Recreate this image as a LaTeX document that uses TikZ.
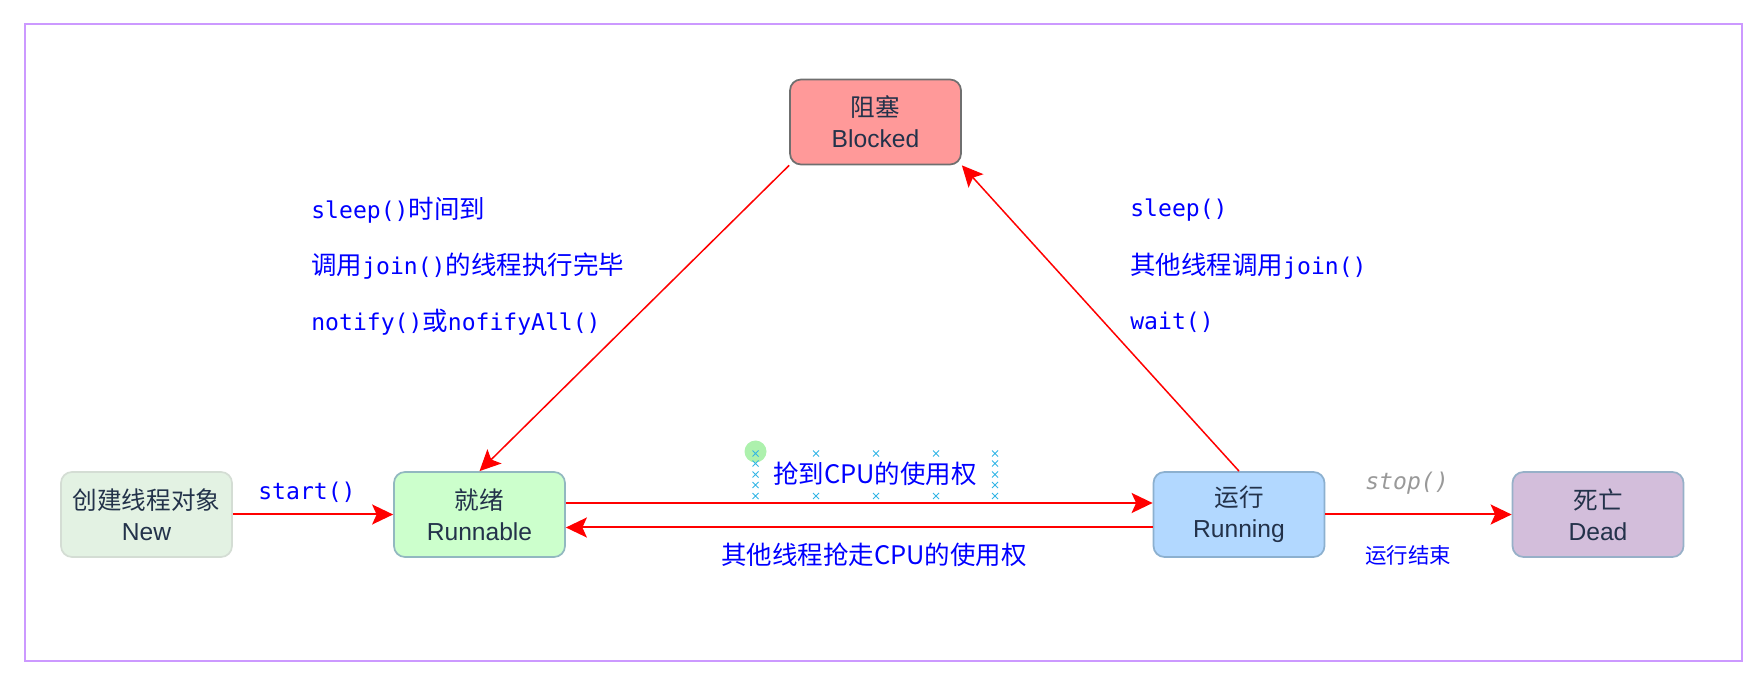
\documentclass[tikz,border=0pt]{standalone}
\usepackage{fontspec}
\setmainfont{Noto Sans CJK SC}
\setmonofont[Scale=0.905]{DejaVu Sans Mono}
\newfontfamily\boxlatin{Liberation Sans}
\usepackage{tikz}
\usetikzlibrary{arrows.meta, positioning}
\usepackage{xcolor}
\definecolor{framecol}{HTML}{CC99FF}
\definecolor{labelblue}{HTML}{0000FF}
\definecolor{boxtext}{HTML}{23324A}
\definecolor{newfill}{HTML}{E3F2E3}
\definecolor{newline}{HTML}{D4DDD4}
\definecolor{runnablefill}{HTML}{CCFFCC}
\definecolor{runnableline}{HTML}{92B8C0}
\definecolor{runningfill}{HTML}{B2D8FF}
\definecolor{runningline}{HTML}{8CB0CF}
\definecolor{deadfill}{HTML}{D3BEDB}
\definecolor{deadline}{HTML}{97B0C8}
\definecolor{blockedfill}{HTML}{FF9999}
\definecolor{blockedline}{HTML}{6F6F6F}
\definecolor{handlecol}{HTML}{33B5E5}
\definecolor{dotcol}{HTML}{99EE99}
\definecolor{stopgray}{HTML}{999999}

\begin{document}
\begin{tikzpicture}[>={Stealth[length=0.42cm, width=0.4cm, inset=0.09cm]},
		state/.style={draw, line width=0.035cm, rounded corners=0.22cm, align=center,
			minimum width=3.42cm, minimum height=1.70cm, text=boxtext,
			font=\fontsize{14pt}{17.5pt}\selectfont},
		lbl/.style={inner sep=0pt, text=labelblue, font=\fontsize{14.5pt}{17pt}\selectfont},
		flow/.style={->, red, line width=0.04cm},
		handle/.style={handlecol, line width=0.02cm}]
		\useasboundingbox (0,0) rectangle (35.24,13.62);
		\draw[framecol, line width=0.04cm] (0.5,0.4) rectangle (34.84,13.14);

		\draw (17.51,11.18) node[state, fill=blockedfill, draw=blockedline] (blocked) {阻塞\\{\boxlatin Blocked}}
		(2.93,3.33) node[state, fill=newfill, draw=newline] (new) {创建线程对象\\{\boxlatin New}}
		(9.59,3.33) node[state, fill=runnablefill, draw=runnableline] (runnable) {就绪\\{\boxlatin Runnable}}
		(24.78,3.33) node[state, fill=runningfill, draw=runningline] (running) {运行\\{\boxlatin Running}}
		(31.96,3.33) node[state, fill=deadfill, draw=deadline] (dead) {死亡\\{\boxlatin Dead}};

		% labels
		\draw (5.16,3.78) node[lbl, anchor=west] (lstart) {\texttt{start()}}
		(6.22,9.42) node[lbl, anchor=west] (lwake1) {\texttt{sleep()}时间到}
		(6.22,8.30) node[lbl, anchor=west] (lwake2) {调用\texttt{join()}的线程执行完毕}
		(6.22,7.18) node[lbl, anchor=west] (lwake3) {\texttt{notify()}或\texttt{nofifyAll()}}
		(22.6,9.42) node[lbl, anchor=west] (lblock1) {\texttt{sleep()}}
		(22.6,8.30) node[lbl, anchor=west] (lblock2) {其他线程调用\texttt{join()}}
		(22.6,7.18) node[lbl, anchor=west] (lblock3) {\texttt{wait()}}
		(17.5,4.15) node[lbl] (lget) {抢到CPU的使用权}
		(17.48,2.52) node[lbl] (llose) {其他线程抢走CPU的使用权}
		(27.3,3.96) node[lbl, anchor=west, text=stopgray] (lstop) {\texttt{\itshape stop()}}
		(27.3,2.52) node[lbl, anchor=west, font=\fontsize{12.2pt}{15pt}\selectfont] (lend) {运行结束};

		% selection marks round the label
		\fill[dotcol, opacity=0.8] (15.11,4.59) circle (0.22cm);
		\foreach \cx/\cy in {15.11/4.55, 15.11/4.35, 15.11/4.13, 15.11/3.92, 15.11/3.70,
			19.9/4.55, 19.9/4.35, 19.9/4.13, 19.9/3.92, 19.9/3.70,
			16.32/4.55, 17.52/4.55, 18.72/4.55, 16.32/3.70, 17.52/3.70, 18.72/3.70}
			\draw[handle] (\cx,\cy) ++(-0.06,-0.06) -- ++(0.12,0.12) ++(0,-0.12) -- ++(-0.12,0.12);

		\draw[flow] (new) -- (runnable);
		\draw[flow] ([yshift=0.23cm]runnable.east) -- ([yshift=0.23cm]running.west);
		\draw[flow] ([yshift=-0.26cm]running.west) -- ([yshift=-0.26cm]runnable.east);
		\draw[flow] (running) -- (dead);
		\draw[flow, line width=0.03cm] (blocked.south west) -- (runnable.north);
		\draw[flow, line width=0.03cm] (running.north) -- (blocked.south east);
	\end{tikzpicture}
\end{document}
